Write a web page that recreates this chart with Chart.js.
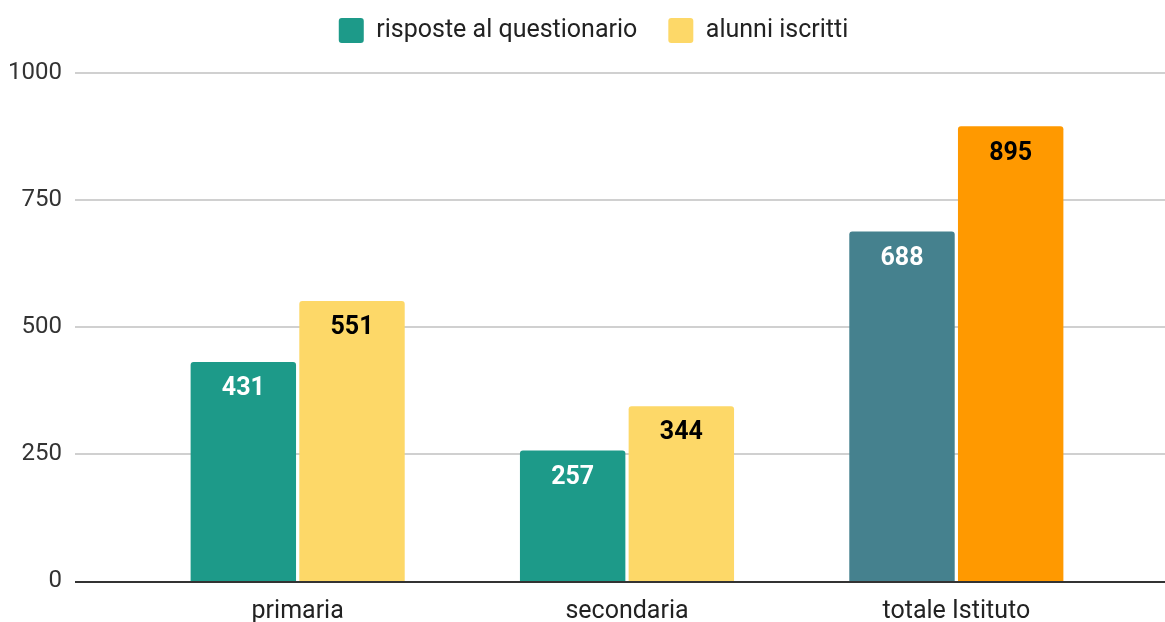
<!DOCTYPE html>
<html>
<head>
<meta charset="utf-8">
<script src="https://cdn.jsdelivr.net/npm/chart.js@4"></script>
<style>
  html, body { margin: 0; padding: 0; background: #fff; }
  #wrap { width: 1165px; height: 622px; }
</style>
</head>
<body>
<div id="wrap"><canvas id="chart" width="1165" height="622"></canvas></div>
<script>
const categories = ['primaria', 'secondaria', 'totale Istituto'];
const risposte = [431, 257, 688];
const iscritti = [551, 344, 895];
const yTicks = [0, 250, 500, 750, 1000];

const tealColors = ['#1d9a89', '#1d9a89', '#45818e'];
const yellowColors = ['#fdd868', '#fdd868', '#ff9900'];

// gridlines run past the plot area on both sides
const gridPlugin = {
  id: 'wideGrid',
  beforeInit(chart) {
    // extra room between legend and plot, legend centred on the whole canvas
    const lg = chart.legend;
    const origFit = lg.fit;
    lg.fit = function () {
      origFit.call(this);
      this.height += 20;
    };
    const origDraw = lg.draw;
    lg.draw = function () {
      this.ctx.save();
      this.ctx.translate(33, 0);
      origDraw.call(this);
      this.ctx.restore();
    };
  },
  beforeDatasetsDraw(chart) {
    const ctx = chart.ctx;
    const y = chart.scales.y;
    ctx.save();
    yTicks.forEach(v => {
      if (v === 0) return;
      const py = Math.round(y.getPixelForValue(v));
      ctx.strokeStyle = '#d0d0d0';
      ctx.lineWidth = 2;
      ctx.beginPath();
      ctx.moveTo(75, py);
      ctx.lineTo(1165, py);
      ctx.stroke();
    });
    ctx.restore();
  },
  afterDatasetsDraw(chart) {
    const ctx = chart.ctx;
    const py = Math.round(chart.scales.y.getPixelForValue(0)) + 1;
    ctx.save();
    ctx.strokeStyle = '#333333';
    ctx.lineWidth = 2;
    ctx.beginPath();
    ctx.moveTo(75, py);
    ctx.lineTo(1165, py);
    ctx.stroke();

    // value labels inside the bar tops
    ctx.font = 'bold 25px Roboto';
    ctx.textAlign = 'center';
    ctx.textBaseline = 'middle';
    chart.data.datasets.forEach((ds, i) => {
      const meta = chart.getDatasetMeta(i);
      meta.data.forEach((bar, j) => {
        ctx.fillStyle = i === 0 ? '#ffffff' : '#000000';
        ctx.fillText(ds.data[j], bar.x, bar.y + 27);
      });
    });
    ctx.restore();
  }
};

new Chart(document.getElementById('chart'), {
  type: 'bar',
  data: {
    labels: categories,
    datasets: [{
      label: 'risposte al questionario',
      data: risposte,
      backgroundColor: c => c.dataIndex === undefined ? tealColors[0] : tealColors[c.dataIndex],
      borderRadius: 3
    }, {
      label: 'alunni iscritti',
      data: iscritti,
      backgroundColor: c => c.dataIndex === undefined ? yellowColors[0] : yellowColors[c.dataIndex],
      borderRadius: 3
    }]
  },
  options: {
    responsive: false,
    maintainAspectRatio: false,
    animation: false,
    layout: { padding: { top: -13, right: 44, bottom: -21, left: 0 } },
    datasets: {
      bar: { categoryPercentage: 0.66, barPercentage: 0.97 }
    },
    scales: {
      x: {
        grid: { display: false, drawTicks: false },
        border: { display: false },
        ticks: { color: '#222', font: { family: 'Roboto', size: 25 }, padding: 16 }
      },
      y: {
        min: 0,
        max: 1000,
        afterBuildTicks: s => { s.ticks = yTicks.map(v => ({ value: v })); },
        afterFit: s => { s.width = 133; },
        grid: { display: false, drawTicks: true, tickLength: 58 },
        border: { display: false },
        ticks: {
          color: '#333',
          font: { family: 'Roboto', size: 24 },
          padding: 13,
          callback: v => String(v)
        }
      }
    },
    plugins: {
      legend: {
        position: 'top',
        labels: {
          boxWidth: 25,
          boxHeight: 25,
          useBorderRadius: true,
          borderRadius: 3,
          padding: 31,
          color: '#222',
          font: { family: 'Roboto', size: 25 }
        }
      },
      tooltip: { enabled: false }
    }
  },
  plugins: [gridPlugin]
});
</script>
</body>
</html>
